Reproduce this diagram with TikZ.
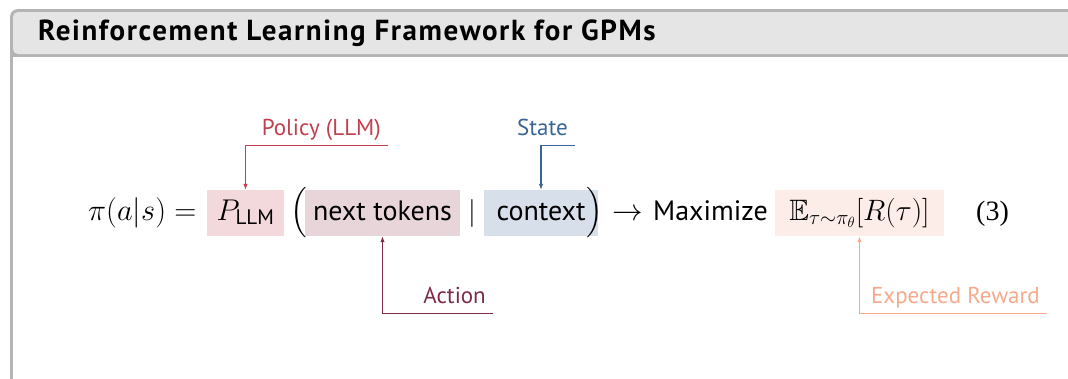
\RequirePackage{fix-cm}
\documentclass[tikz,border=0pt]{standalone}
\usepackage{amsmath,amssymb}
\usepackage{anyfontsize}
\usepackage{fontspec}
\setmainfont{PT Sans}
\newfontfamily\numfont{Liberation Serif}
\newfontfamily\titlefont[LetterSpace=5.5]{PT Sans}
\usetikzlibrary{arrows.meta}
\definecolor{framegray}{HTML}{B4B4B4}
\definecolor{titlebg}{HTML}{E5E5E5}
\definecolor{polc}{HTML}{C0404E}
\definecolor{polbg}{HTML}{F3D8DC}
\definecolor{actc}{HTML}{7E2C48}
\definecolor{actbg}{HTML}{E7D5DA}
\definecolor{statec}{HTML}{3B6597}
\definecolor{statebg}{HTML}{D7E0EA}
\definecolor{rewc}{HTML}{F5AA8D}
\definecolor{rewbg}{HTML}{FCEDE8}
\begin{document}
\begin{tikzpicture}[x=1pt,y=1pt,
  eqtext/.style={inner sep=0pt, anchor=base west, font=\fontsize{28}{32}\selectfont},
  eqmath/.style={inner sep=0pt, anchor=base west, font=\fontsize{30.5}{34}\selectfont},
  hlbox/.style={inner sep=0pt, text height=30pt, text depth=16pt, anchor=base, font=\fontsize{28}{32}\selectfont},
  lab/.style={inner xsep=7pt, inner ysep=0pt, text depth=10pt, anchor=base east, font=\fontsize{23}{26}\selectfont},
  conn/.style={line width=1.1pt, -{Latex[length=6pt,width=4.5pt]}}]
\useasboundingbox (0,0) rectangle (1068,-378);
\clip (0,0) rectangle (1068,-378);
% frame
\fill[framegray, rounded corners=8pt] (10,-450) -- (10,-9) -- (1150,-9) -- (1150,-450) -- cycle;
\fill[titlebg, rounded corners=5pt] (13,-54) -- (13,-12) -- (1150,-12) -- (1150,-54) -- cycle;
\fill[white] (13,-57) rectangle (1150,-450);
\node[anchor=base west, inner sep=0pt, font=\fontsize{29}{32}\selectfont\titlefont\bfseries] (title) at (38,-40) {Reinforcement Learning Framework for GPMs};
% equation
\node[eqmath] (lhs) at (88,-220) {$\pi(a|s) =$};
\node[hlbox, fill=polbg, minimum width=77pt, font=\fontsize{30}{34}\selectfont] (P) at (245.5,-220) {$P_{\text{LLM}}$};
\node[eqtext] (lp) at (290,-220) {$\Big($};
\node[hlbox, fill=actbg, minimum width=155pt] (nt) at (382.5,-220) {next tokens};
\node[eqtext, anchor=base] (bar) at (472,-220) {$|$};
\node[hlbox, fill=statebg, minimum width=114pt] (ctx) at (541,-220) {context};
\node[eqtext, anchor=base east] (rp) at (603,-220) {$\Big)$};
\node[eqmath] (arr) at (612,-220) {$\rightarrow$};
\node[eqtext] (max) at (653,-220) {Maximize};
\node[hlbox, fill=rewbg, minimum width=169pt, font=\fontsize{29.5}{34}\selectfont] (E) at (859.5,-220) {$\mathbb{E}_{\tau\sim\pi_\theta}[R(\tau)]$};
\node[eqtext, font=\fontsize{28}{32}\selectfont\numfont] (eqn) at (976,-220) {(3)};
% labels
\node[lab, text=polc] (pol) at (388,-135) {Policy (LLM)};
\node[lab, text=statec] (st) at (575,-135) {State};
\node[lab, text=actc] (act) at (493,-303) {Action};
\node[lab, text=rewc] (rew) at (1047,-303) {Expected Reward};
\draw[conn, polc] (pol.south east) -| (P.north);
\draw[conn, statec] (st.south east) -| (ctx.north);
\draw[conn, actc] (act.south east) -| (nt.south);
\draw[conn, rewc] (rew.south east) -| (E.south);
\end{tikzpicture}
\end{document}
